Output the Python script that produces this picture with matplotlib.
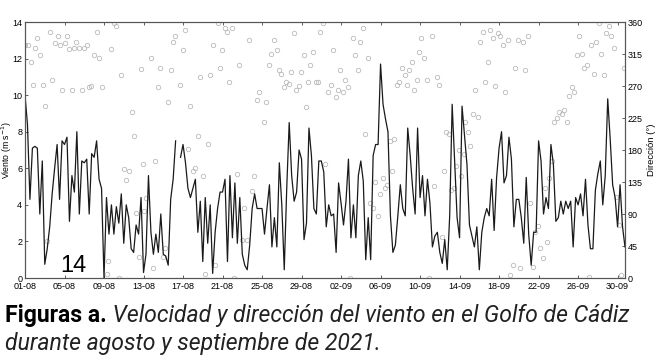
import numpy as np
import pandas as pd
import matplotlib
matplotlib.use("Agg")
import matplotlib.pyplot as plt
import matplotlib.dates as mdates

# wind speed (m/s), every 6 h from 01-08-2021 00:00 (nan = gap in the record)
speed = [
    10.0, 8.4, 4.3, 7.1, 7.2, 7.1, 3.5, 6.4, 0.75, 1.6,
    2.8, 4.6, 6.0, 7.3, 4.3, 7.5, 7.3, 7.7, 3.1, 5.6,
    4.7, 8.0, 3.5, 6.4, 6.3, 6.5, 3.5, 6.8, 6.6, 7.5,
    5.4, 4.9, 0.0, 4.4, 2.4, 4.0, 2.4, 3.9, 3.0, 4.6,
    1.9, 4.0, 3.3, 1.6, 1.4, 2.9, 2.4, 4.4, 0.3, 1.3,
    5.6, 2.5, 1.3, 2.4, 1.4, 3.5, 1.3, 1.2, 0.7, 4.3,
    5.4, 7.5, np.nan, 6.6, 7.3, 6.3, 4.9, 4.4, 4.9, 5.4,
    2.5, 4.2, 0.9, 4.4, 1.9, 4.0, 0.25, 2.5, 3.8, 4.7,
    4.7, 5.4, 0.9, 5.6, 2.2, 5.2, 1.9, 4.4, 1.3, 0.7,
    0.45, 1.8, 3.8, 4.6, 3.8, 3.8, 3.8, 2.4, 3.8, 5.1,
    1.7, 3.3, 1.7, 6.3, 4.0, 0.45, 4.9, 8.5, 5.6, 4.2,
    4.7, 7.0, 6.5, 2.1, 3.0, 8.2, 6.7, 3.8, 3.5, 6.4,
    6.4, 5.8, 2.8, 4.0, 3.4, 3.5, 1.4, 5.2, 4.1, 2.9,
    4.2, 6.5, 2.2, 4.0, 2.2, 5.6, 6.4, 5.3, 1.0, 3.3,
    1.0, 6.7, 7.3, 7.3, 11.7, 9.5, 8.7, 8.0, 3.4, 1.4,
    1.8, 3.4, 5.1, 3.8, 3.4, 8.2, 6.7, 4.9, 3.5, 8.2,
    4.4, 5.6, 3.4, 5.4, 4.1, 1.7, 2.3, 2.5, 1.4, 0.8,
    2.1, 0.45, 3.4, 9.5, 6.4, 3.3, 2.2, 9.4, 7.8, 6.2,
    2.9, 2.3, 1.7, 2.8, 0.45, 2.5, 3.3, 3.8, 3.4, 5.4,
    2.6, 5.5, 7.1, 8.0, 5.2, 5.6, 7.7, 6.5, 2.8, 4.3,
    4.3, 3.3, 1.9, 5.5, 2.4, 0.7, 2.5, 2.5, 7.5, 6.4,
    3.5, 4.4, 3.8, 7.3, 6.2, 3.1, 3.3, 4.2, 3.5, 4.2,
    3.8, 4.2, 1.7, 4.4, 4.0, 4.6, 3.4, 5.4, 2.9, 1.6,
    1.6, 4.8, 5.7, 6.4, 4.0, 5.6, 9.8, 7.6, 5.1, 4.4,
    2.8, 5.1, 2.8, 1.7,
]

# wind direction: days since 01-08-2021 and degrees
dir_day = [
    0.0, 0.34, 0.57, 0.78, 1.0, 1.25, 1.5, 1.8, 2.0, 2.26,
    2.5, 2.77, 3.0, 3.3, 3.5, 3.7, 4.0, 4.25, 4.5, 4.76,
    5.0, 5.2, 5.5, 5.74, 6.0, 6.25, 6.5, 6.7, 7.0, 7.26,
    7.5, 7.77, 8.3, 8.4, 8.7, 9.0, 9.26, 9.5, 9.7, 10.0,
    10.24, 10.5, 10.8, 11.0, 11.25, 11.5, 11.7, 11.99, 12.0, 12.3,
    12.76, 13.0, 13.2, 13.5, 13.7, 14.0, 14.2, 14.5, 14.75, 14.95,
    15.2, 15.7, 15.97, 16.2, 16.5, 16.7, 17.0, 17.2, 17.5, 17.7,
    18.0, 18.2, 18.5, 18.7, 19.0, 19.2, 19.5, 19.7, 19.95, 20.2,
    20.5, 20.7, 20.96, 21.2, 21.5, 21.7, 21.98, 22.2, 22.45, 22.7,
    22.96, 23.2, 23.45, 23.7, 24.2, 24.4, 24.7, 24.9, 25.2, 25.5,
    25.7, 25.96, 26.2, 26.4, 26.7, 26.9, 27.2, 27.4, 27.7, 27.96,
    28.2, 28.5, 28.7, 28.9, 29.2, 29.5, 29.7, 29.9, 30.2, 30.4,
    30.7, 30.96, 31.2, 31.5, 31.7, 31.9, 32.2, 32.4, 32.7, 32.9,
    33.2, 33.4, 33.7, 33.9, 34.2, 34.4, 34.7, 34.9, 35.2, 35.4,
    35.7, 35.9, 36.2, 36.45, 36.7, 36.96, 37.2, 37.4, 37.7, 37.9,
    38.2, 38.45, 38.65, 38.9, 39.2, 39.4, 39.7, 39.9, 40.1, 40.4,
    40.7, 40.9, 41.2, 41.4, 41.7, 41.9, 42.2, 42.4, 42.6, 42.9,
    43.1, 43.4, 43.6, 43.9, 44.1, 44.4, 44.6, 44.9, 45.1, 45.4,
    45.6, 45.9, 46.1, 46.4, 46.6, 46.9, 47.1, 47.4, 47.6, 47.9,
    48.1, 48.4, 48.6, 48.9, 49.1, 49.4, 49.6, 49.9, 50.1, 50.4,
    50.6, 50.9, 51.1, 51.4, 51.6, 51.9, 52.1, 52.4, 52.6, 52.9,
    53.1, 53.4, 53.6, 53.9, 54.1, 54.4, 54.6, 54.9, 55.1, 55.4,
    55.6, 55.9, 56.1, 56.4, 56.6, 56.9, 57.1, 57.3, 57.6, 57.8,
    58.1, 58.3, 58.6, 58.8, 59.1, 59.3, 59.6, 59.8, 60.1, 60.3,
    60.6,
]
dir_deg = [
    328, 328, 304, 271, 324, 338, 313, 272, 242, 52,
    346, 279, 330, 341, 327, 264, 330, 341, 322, 264,
    324, 332, 324, 264, 324, 328, 268, 270, 313, 346,
    310, 268, 5, 24, 322, 358, 355, 0, 285, 153,
    138, 151, 234, 199, 92, 30, 294, 160, 94, 112,
    310, 14, 165, 268, 296, 29, 42, 247, 293, 332,
    341, 272, 321, 349, 182, 242, 151, 154, 200, 282,
    143, 5, 188, 286, 327, 18, 358, 296, 321, 352,
    346, 276, 352, 0, 146, 300, 53, 98, 53, 335,
    123, 143, 251, 261, 219, 247, 299, 315, 335, 321,
    293, 287, 268, 276, 273, 289, 344, 265, 270, 289,
    313, 240, 276, 300, 318, 276, 276, 346, 358, 161,
    261, 272, 321, 254, 265, 293, 261, 278, 268, 0,
    338, 313, 293, 332, 352, 203, 310, 105, 99, 135,
    87, 118, 140, 126, 131, 192, 151, 196, 272, 276,
    296, 286, 272, 293, 304, 265, 279, 318, 338, 310,
    279, 0, 341, 130, 282, 272, 57, 150, 206, 203,
    124, 127, 157, 180, 143, 175, 220, 206, 185, 231,
    265, 227, 332, 346, 276, 304, 349, 338, 270, 344,
    341, 327, 262, 335, 4, 18, 296, 335, 14, 332,
    293, 341, 106, 16, 64, 73, 42, 28, 127, 50,
    140, 164, 219, 225, 234, 230, 236, 219, 256, 268,
    261, 313, 341, 315, 296, 300, 2, 327, 287, 332,
    358, 315, 285, 344, 355, 341, 324, 114, 74, 4,
    296,
]

speed_ticks = [0, 2, 4, 6, 8, 10, 12, 14]
dir_ticks = [0, 45, 90, 135, 180, 225, 270, 315, 360]

t0 = pd.Timestamp("2021-08-01")
t = pd.date_range(t0, periods=len(speed), freq="6h")
t_dir = t0 + pd.to_timedelta(dir_day, unit="D")

plt.rcParams["font.family"] = ["Liberation Sans", "DejaVu Sans"]

fig = plt.figure(figsize=(6.6, 3.56), dpi=100)
ax = fig.add_axes([25 / 660, 1 - 278 / 356, 600 / 660, 256 / 356])
ax2 = ax.twinx()

ax2.plot(t_dir, dir_deg, "o", ms=3.2, mfc="none", mec="#bababa", mew=0.6)
ax.plot(t, speed, color="#1a1a1a", lw=0.9)

ax.set_zorder(ax2.get_zorder() + 1)
ax.patch.set_visible(False)

ax.set_xlim(t[0], t[-1])
ax.set_ylim(0, 14)
ax2.set_ylim(0, 360)
ax.set_yticks(speed_ticks)
ax2.set_yticks(dir_ticks)

ax.set_xticks(pd.date_range("2021-08-01", "2021-09-30", freq="4D"))
ax.xaxis.set_major_formatter(mdates.DateFormatter("%d-%m"))

for a in (ax, ax2):
    a.tick_params(direction="in", length=2.5, width=0.6, color="#444444",
                  labelsize=6.5, pad=2)
    for s in a.spines.values():
        s.set_color("#555555")
        s.set_linewidth(0.8)
ax.tick_params(axis="x", top=True, pad=3)

ax.set_ylabel("Viento (m s$^{-1}$)", fontsize=6.3)
ax.yaxis.set_label_coords(-0.019, 0.5)
ax2.set_ylabel("Dirección (°)", fontsize=6.8, labelpad=3)

ax.text(0.08, 0.005, "14", transform=ax.transAxes, fontsize=17,
        color="black", ha="center", va="bottom")

cap_font = ["Roboto", "Liberation Sans", "DejaVu Sans"]
bold = fig.text(5 / 660, 0.095, "Figuras a.", fontsize=16.6, fontweight="bold",
                family=cap_font, color="black", ha="left", va="baseline")
plt.annotate(" Velocidad y dirección del viento en el Golfo de Cádiz",
             xy=(1, 0), xycoords=bold, xytext=(0, 0), textcoords="offset points",
             fontsize=16.6, style="italic", family=cap_font, color="#222222",
             ha="left", va="bottom")
fig.text(5 / 660, 0.018, "durante agosto y septiembre de 2021.", fontsize=16.6,
         style="italic", family=cap_font, color="#222222", ha="left",
         va="baseline")

fig.savefig("out.png", dpi=100)
